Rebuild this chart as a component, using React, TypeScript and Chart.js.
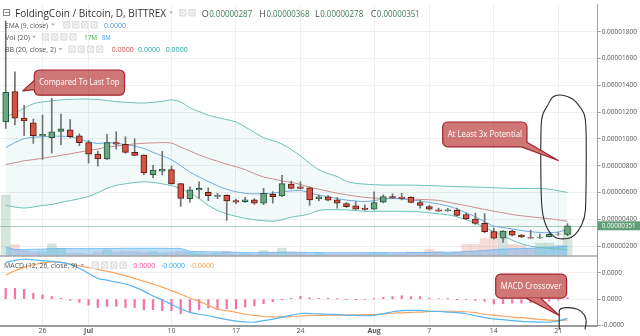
import React, { useEffect, useRef } from 'react';
import { Chart, registerables } from 'chart.js';

Chart.register(...registerables);

// ---------- data (prices in satoshi, 1e-8 BTC) ----------
const OPEN = [1126,1353,1155,1119,1023,1009,1055,1067,1023,972, 886,850,972,960,899,879,732,759,770,666, 554,618,600,571,578,540,532,545,520,586, 574,662,642,635,552,567,545,517,500,483, 476,527,569,566,564,525,495,471,464,468, 435,402,369,307,259,312,281,263,261,270, 288,287];
const HIGH = [1880,1500,1251,1148,1177,1302,1185,1143,1038,989, 906,1033,1053,1016,1001,881,803,906,796,668, 642,679,635,593,583,550,564,554,630,605, 728,684,679,642,581,576,561,525,532,508, 605,583,589,593,569,542,503,483,481,483, 446,446,442,336,316,319,288,319,290,292, 301,368];
const LOW = [1077,1104,1023,965,847,894,957,1009,950,818, 796,845,923,894,875,732,708,730,662,495, 527,556,539,554,391,517,525,510,508,520, 569,627,625,503,537,536,483,488,473,468, 473,521,554,545,521,483,468,459,459,422, 396,361,300,251,226,276,263,257,257,268, 280,278];
const CLOSE = [1348,1155,1133,1023,1033,1053,1075,1016,972,886, 850,972,960,899,877,745,767,774,664,556, 620,630,576,578,537,527,545,520,593,569, 666,630,630,545,567,542,520,493,476,473, 525,569,559,556,525,503,476,461,471,429, 402,369,307,259,312,281,268,259,263,288, 290,351];
// volume in millions
const VOLUME = [37.6,7.1,3.5,2.4,2.8,7.5,4.8,1.8,1.8,1.4, 2.4,3.8,2.4,2.8,3.0,2.4,2.8,1.8,2.4,3.0, 2.4,1.8,1.5,1.8,2.8,1.2,1.5,1.2,3.5,1.8, 5.0,2.4,1.8,1.2,1.8,1.2,1.2,1.2,1.5,1.5, 2.2,2.2,1.5,1.5,2.4,2.4,4.2,3.0,1.8,2.4, 7.3,7.3,10.9,15.2,15.2,7.3,6.7,4.8,8.0,8.0, 6.7,17.0];
const VOLUME_MA = [5.6,4.1,4.1,4.2,4.3,4.6,4.6,4.6,4.6,4.6, 4.6,4.7,4.7,4.8,4.8,4.8,4.8,4.8,4.7,4.7, 3.0,2.8,2.7,2.6,2.6,2.3,2.2,2.2,2.3,2.3, 2.4,2.4,2.3,2.2,2.2,2.1,2.1,2.1,2.1,2.1, 2.1,2.1,2.1,2.1,2.2,2.2,2.3,2.4,2.4,2.5, 2.8,3.1,3.5,3.9,4.3,4.5,4.7,4.9,5.2,5.5, 5.7,6.2];
const BB_UPPER = [1166,1192,1229,1262,1276,1284,1291,1295,1297,1297, 1293,1286,1278,1273,1269,1267,1273,1280,1291,1276, 1232,1204,1177,1159,1144,1126,1089,1049,1009,987, 961,921,873,818,770,741,719,682,668,662, 658,655,655,655,655,653,651,649,646,644, 642,640,638,635,633,630,630,630,630,624, 613,600];
const BB_BASIS = [809,822,836,845,855,866,877,888,901,913, 924,938,946,955,962,967,970,972,968,939, 910,880,855,833,811,792,770,741,715,701, 686,675,660,638,624,609,594,583,572,563, 558,556,555,553,550,548,545,541,528,514, 501,487,473,460,448,435,426,418,411,404, 395,385];
const BB_LOWER = [503,492,483,492,503,510,525,539,553,569, 598,631,653,664,675,679,675,664,651,627, 598,554,503,466,440,422,407,396,389,385, 396,415,426,440,466,471,471,470,465,459, 459,459,459,459,459,455,448,440,433,418, 396,371,338,308,276,243,217,199,189,182, 177,173];
const EMA9 = [935,972,1001,1012,1016,1020,1020,1016,998,979, 965,972,968,957,946,928,899,873,844,800, 752,715,682,649,624,605,594,589,591,594, 605,611,615,598,580,569,554,543,536,532, 539,550,554,552,545,536,525,514,499,477, 448,418,382,349,338,327,316,307,301,300, 305,325];
// MACD in 1e-8 units
const MACD_LINE = [27.7,29.4,30.3,29.9,29.2,28.6,27.9,26.4,23.4,19.6, 15.7,14.4,12.9,11.5,9.1,6.1,2.4,-0.6,-4.0,-7.3, -10.0,-11.5,-12.6,-14.1,-15.6,-16.7,-17.3,-17.5,-16.3,-15.2, -13.7,-12.2,-10.9,-10.9,-11.2,-11.5,-11.8,-12.2,-12.4,-12.6, -12.4,-11.1,-9.6,-8.7,-8.6,-8.5,-9.2,-9.4,-9.8,-10.3, -11.1,-12.6,-14.1,-15.0,-15.6,-16.3,-16.9,-17.2,-17.5,-17.5, -16.6,-14.5];
const MACD_SIGNAL = [18.3,21.5,24.1,26.0,27.5,28.2,27.9,26.7,25.2,24.0, 22.6,21.1,19.6,17.8,15.7,13.6,11.4,9.1,6.5,3.9, 0.9,-1.7,-4.7,-7.7,-8.8,-10.0,-11.5,-12.4,-13.2,-13.5, -13.5,-13.2,-12.8,-12.4,-12.4,-12.2,-12.2,-12.2,-12.0,-11.8, -11.7,-11.2,-10.7,-10.4,-10.1,-9.8,-9.4,-9.2,-9.2,-9.2, -9.6,-10.3,-11.5,-12.2,-13.0,-13.6,-14.1,-14.8,-15.4,-16.0, -16.2,-15.8];
const MACD_HIST = [8.2,8.2,7.5,4.5,3.2,2.0,0.7,-1.0,-2.5,-4.5, -6.2,-5.5,-5.5,-6.2,-6.2,-8.0,-8.0,-8.8,-8.8,-11.0, -10.0,-8.0,-6.7,-8.0,-7.5,-7.5,-6.0,-5.0,-3.5,-2.0, -0.2,0.7,2.2,1.0,0.7,0.7,0.2,-0.2,-0.2,-0.5, 0.1,1.3,2.0,2.5,2.0,2.0,0.7,0.5,0.2,-0.2, -0.5,-1.0,-1.5,-3.7,-3.4,-3.0,-3.0,-2.6,-2.2,-1.5, -0.7,1.1];

const X_TICK_INDEX = [4, 9, 18, 25, 32, 40, 46, 53, 60];
const X_TICK_LABELS = ['26', 'Jul', '10', '17', '24', 'Aug', '7', '14', '21'];
const MONTH_LABELS = ['Jul', 'Aug'];
const PRICE_TICKS = [200, 400, 600, 800, 1000, 1200, 1400, 1600, 1800];
const MACD_TICKS = [20, 0, -20];

const SYMBOL_TITLE = 'FoldingCoin / Bitcoin, D, BITTREX';
const EMA_TITLE = 'EMA (9, close)';
const EMA_VALUES = ['0.0000'];
const VOL_TITLE = 'Vol (20)';
const VOL_VALUES = ['17M', '8M'];
const BB_TITLE = 'BB (20, close, 2)';
const BB_VALUES = ['0.0000', '0.0000', '0.0000'];
const MACD_TITLE = 'MACD (12, 26, close, 9)';
const MACD_VALUES = ['0.0000', '-0.0000', '-0.0000'];

// annotations, anchored in data units (index, price / macd value)
const CALLOUTS = [
  { text: 'Compared To Last Top', axis: 'yPrice', x0: 3.1, x1: 12.9, yTop: 1514, yBot: 1326, tail: [[3.1, 1436], [1.85, 1358], [3.1, 1368]] },
  { text: 'At Least 3x Potential', axis: 'yPrice', x0: 47.45, x1: 56.6, yTop: 1126, yBot: 940, tail: [[56.6, 975], [60.0, 838], [56.0, 940]] },
  { text: 'MACD Crossover', axis: 'yMacd', x0: 53.2, x1: 60.9, yTop: 19.0, yBot: 0.75, tail: [[56.5, 0.75], [60.1, -12.4], [58.1, 0.75]] },
];
const LOOP_MAIN = [[60.2, 1333], [61.6, 1302], [62.5, 1229], [63.0, 1160], [63.05, 900], [63.0, 532], [62.9, 410], [62.2, 312], [61.5, 263], [60.5, 250], [59.5, 263], [58.7, 336], [58.2, 459], [58.1, 700], [58.1, 1045], [58.2, 1179], [58.9, 1253], [59.3, 1314]];
const LOOP_MACD = [[60.1, -23], [60.1, -12], [60.1, -6.7], [61.6, -6.2], [62.6, -9.2], [63.1, -15.4], [62.9, -23]];

const X_MIN = -0.62;
const X_MAX = 64.28;

const FONT = '"Open Sans", "Noto Sans", "DejaVu Sans", sans-serif';
const UP_FILL = '#6ba583';
const UP_BORDER = '#225437';
const DOWN_FILL = '#d75442';
const DOWN_BORDER = '#5b1a13';
const WICK = '#737375';

const fmtPrice = (v: number) => (v / 1e8).toFixed(8);
const fmtMacd = (v: number) => (v < 0 ? '-0.0000' : '0.0000');
const isUp = (i: number) => CLOSE[i] >= OPEN[i];
const pts = (arr: number[]) => arr.map((v, i) => ({ x: i, y: v }));

function roundRect(ctx: CanvasRenderingContext2D, x0: number, y0: number, x1: number, y1: number, r: number) {
  ctx.beginPath();
  ctx.moveTo(x0 + r, y0);
  ctx.arcTo(x1, y0, x1, y1, r);
  ctx.arcTo(x1, y1, x0, y1, r);
  ctx.arcTo(x0, y1, x0, y0, r);
  ctx.arcTo(x0, y0, x1, y0, r);
  ctx.closePath();
}

function smoothPath(ctx: CanvasRenderingContext2D, p: { x: number; y: number }[], closed: boolean) {
  const n = p.length;
  const mid = (a: any, b: any) => ({ x: (a.x + b.x) / 2, y: (a.y + b.y) / 2 });
  ctx.beginPath();
  if (closed) {
    const m0 = mid(p[n - 1], p[0]);
    ctx.moveTo(m0.x, m0.y);
    for (let i = 0; i < n; i++) {
      const m = mid(p[i], p[(i + 1) % n]);
      ctx.quadraticCurveTo(p[i].x, p[i].y, m.x, m.y);
    }
  } else {
    ctx.moveTo(p[0].x, p[0].y);
    for (let i = 1; i < n - 1; i++) {
      const m = mid(p[i], p[i + 1]);
      ctx.quadraticCurveTo(p[i].x, p[i].y, m.x, m.y);
    }
    ctx.lineTo(p[n - 1].x, p[n - 1].y);
  }
  ctx.stroke();
}

function drawIcons(ctx: CanvasRenderingContext2D, x: number, yMid: number, count: number) {
  for (let k = 0; k < count; k++) {
    const bx = x + k * 9.2;
    ctx.fillStyle = '#e2e2e2';
    roundRect(ctx, bx, yMid - 4, bx + 7.5, yMid + 3.5, 1);
    ctx.fill();
    ctx.strokeStyle = '#ffffff';
    ctx.lineWidth = 1;
    ctx.beginPath();
    ctx.arc(bx + 3.75, yMid - 0.25, 1.8, 0, Math.PI * 2);
    ctx.stroke();
  }
}

function drawCaret(ctx: CanvasRenderingContext2D, x: number, yMid: number) {
  ctx.fillStyle = '#b0b0b0';
  ctx.beginPath();
  ctx.moveTo(x, yMid - 1.5);
  ctx.lineTo(x + 4, yMid - 1.5);
  ctx.lineTo(x + 2, yMid + 0.8);
  ctx.closePath();
  ctx.fill();
}

function drawText(ctx: CanvasRenderingContext2D, text: string, x: number, y: number, size: number, color: string, maxW?: number, weight = 'normal') {
  ctx.font = `${weight} ${size}px ${FONT}`;
  ctx.fillStyle = color;
  ctx.textAlign = 'left';
  ctx.textBaseline = 'alphabetic';
  if (maxW) ctx.fillText(text, x, y, maxW);
  else ctx.fillText(text, x, y);
}

const overlayPlugin = {
  id: 'overlay',
  beforeDatasetsDraw(chart: any) {
    const { ctx, chartArea } = chart;
    const yp = chart.scales.yPrice;
    const y = Math.round(yp.getPixelForValue(CLOSE[CLOSE.length - 1])) + 0.5;
    ctx.save();
    ctx.strokeStyle = 'rgba(107,165,131,0.55)';
    ctx.lineWidth = 1;
    ctx.beginPath();
    ctx.moveTo(chartArea.left, y);
    ctx.lineTo(chartArea.right, y);
    ctx.stroke();
    ctx.restore();
  },
  afterDatasetsDraw(chart: any) {
    const { ctx } = chart;
    const xs = chart.scales.x;
    ctx.save();
    // hand-drawn loops
    ctx.strokeStyle = '#2b2b2b';
    ctx.lineWidth = 1.1;
    ctx.lineJoin = 'round';
    const yp = chart.scales.yPrice;
    const ym = chart.scales.yMacd;
    smoothPath(ctx, LOOP_MAIN.map(([i, v]) => ({ x: xs.getPixelForValue(i), y: yp.getPixelForValue(v) })), true);
    smoothPath(ctx, LOOP_MACD.map(([i, v]) => ({ x: xs.getPixelForValue(i), y: ym.getPixelForValue(v) })), false);
    // callouts
    for (const c of CALLOUTS) {
      const ys = chart.scales[c.axis];
      const x0 = xs.getPixelForValue(c.x0);
      const x1 = xs.getPixelForValue(c.x1);
      const y0 = ys.getPixelForValue(c.yTop);
      const y1 = ys.getPixelForValue(c.yBot);
      ctx.fillStyle = 'rgba(178,34,34,0.62)';
      ctx.strokeStyle = '#a3262c';
      ctx.lineWidth = 1.2;
      roundRect(ctx, x0, y0, x1, y1, 5);
      ctx.fill();
      ctx.stroke();
      const t = c.tail.map(([i, v]) => ({ x: xs.getPixelForValue(i), y: ys.getPixelForValue(v) }));
      ctx.fillStyle = 'rgb(207,118,118)';
      ctx.beginPath();
      ctx.moveTo(t[0].x, t[0].y);
      ctx.lineTo(t[1].x, t[1].y);
      ctx.lineTo(t[2].x, t[2].y);
      ctx.closePath();
      ctx.fill();
      ctx.beginPath();
      ctx.moveTo(t[0].x, t[0].y);
      ctx.lineTo(t[1].x, t[1].y);
      ctx.lineTo(t[2].x, t[2].y);
      ctx.stroke();
      ctx.font = `9px ${FONT}`;
      ctx.fillStyle = '#ffffff';
      ctx.textAlign = 'center';
      ctx.textBaseline = 'middle';
      ctx.fillText(c.text, (x0 + x1) / 2, (y0 + y1) / 2, x1 - x0 - 10);
    }
    ctx.restore();
  },
  afterDraw(chart: any) {
    const { ctx, chartArea } = chart;
    const yp = chart.scales.yPrice;
    ctx.save();
    // pane divider
    ctx.strokeStyle = '#a6a6a6';
    ctx.lineWidth = 1.5;
    ctx.beginPath();
    ctx.moveTo(chartArea.left, yp.bottom);
    ctx.lineTo(chartArea.right, yp.bottom);
    ctx.stroke();

    // last price label on axis
    const last = CLOSE.length - 1;
    const ly = yp.getPixelForValue(CLOSE[last]);
    ctx.fillStyle = '#5e9e78';
    ctx.fillRect(yp.left, ly - 4.5, 640 - yp.left, 9);
    ctx.font = `6.5px ${FONT}`;
    ctx.fillStyle = '#ffffff';
    ctx.textAlign = 'left';
    ctx.textBaseline = 'middle';
    ctx.fillText(fmtPrice(CLOSE[last]), yp.left + 4, ly + 0.5, 34);

    // header row 1
    ctx.strokeStyle = '#888';
    ctx.lineWidth = 1;
    ctx.strokeRect(3.5, 9.5, 6, 6);
    ctx.beginPath();
    ctx.moveTo(5, 12.5);
    ctx.lineTo(9, 12.5);
    ctx.stroke();
    drawText(ctx, SYMBOL_TITLE, 15, 16.7, 10, '#333333', 151);
    drawCaret(ctx, 169, 13);
    drawIcons(ctx, 179, 13, 2);
    const ohlc = [['O', OPEN[last], 201.7], ['H', HIGH[last], 259.3], ['L', LOW[last], 315], ['C', CLOSE[last], 370.7]];
    for (const [k, v, x] of ohlc as any) {
      drawText(ctx, k, x, 16.7, 9, '#4a4a4a');
      ctx.font = `9px ${FONT}`;
      const w = ctx.measureText(k).width;
      drawText(ctx, fmtPrice(v), x + w + 0.5, 16.7, 9, '#3b7a53', 43);
    }
    // row 2: EMA
    drawText(ctx, EMA_TITLE, 5, 27.5, 7.5, '#555', 43);
    drawCaret(ctx, 51, 25);
    drawIcons(ctx, 62.7, 25, 4);
    drawText(ctx, EMA_VALUES[0], 104, 27.5, 7.5, '#4a90d9', 22);
    // row 3: Vol
    drawText(ctx, VOL_TITLE, 5, 39.5, 7.5, '#555', 25);
    drawCaret(ctx, 32, 37.3);
    drawIcons(ctx, 41.7, 37.3, 4);
    drawText(ctx, VOL_VALUES[0], 84, 39.5, 7.5, '#3cab4a', 13);
    drawText(ctx, VOL_VALUES[1], 101.7, 39.5, 7.5, '#3aa0f0', 9);
    // row 4: BB
    drawText(ctx, BB_TITLE, 5, 51.8, 7.5, '#555', 51);
    drawCaret(ctx, 58.5, 49.5);
    drawIcons(ctx, 68.3, 49.5, 4);
    drawText(ctx, BB_VALUES[0], 111.7, 51.8, 7.5, '#c0504d', 22);
    drawText(ctx, BB_VALUES[1], 138, 51.8, 7.5, '#26a69a', 22);
    drawText(ctx, BB_VALUES[2], 165.7, 51.8, 7.5, '#26a69a', 22);
    // MACD row
    drawText(ctx, MACD_TITLE, 4, 268, 7.5, '#555', 73);
    drawCaret(ctx, 80.5, 265.5);
    drawIcons(ctx, 91.7, 265.5, 4);
    drawText(ctx, MACD_VALUES[0], 133.3, 268, 7.5, '#ff4aa0', 22);
    drawText(ctx, MACD_VALUES[1], 161, 268, 7.5, '#2fa4f5', 24);
    drawText(ctx, MACD_VALUES[2], 190, 268, 7.5, '#ff9a3d', 24);
    ctx.restore();
  },
};

function App() {
  const ref = useRef<HTMLCanvasElement>(null);
  useEffect(() => {
    const canvas = ref.current as HTMLCanvasElement;
    const chart = new Chart(canvas, {
      type: 'bar',
      data: {
        datasets: [
          {
            type: 'bar', label: 'Volume', yAxisID: 'yVol', data: pts(VOLUME),
            backgroundColor: VOLUME.map((_, i) => (isUp(i) ? 'rgba(107,165,131,0.28)' : 'rgba(215,84,66,0.2)')),
            barThickness: 9, grouped: false, order: 10,
          },
          {
            type: 'line', label: 'Volume MA', yAxisID: 'yVol', data: pts(VOLUME_MA),
            borderColor: 'rgba(66,165,245,0.6)', backgroundColor: 'rgba(66,165,245,0.38)', borderWidth: 1,
            pointRadius: 0, fill: 'origin', tension: 0.2, order: 9,
          },
          {
            type: 'line', label: 'BB upper', yAxisID: 'yPrice', data: pts(BB_UPPER),
            borderColor: '#6cc0b8', borderWidth: 1, pointRadius: 0, tension: 0.3,
            fill: '+2', backgroundColor: 'rgba(38,166,154,0.06)', order: 8,
          },
          {
            type: 'line', label: 'BB basis', yAxisID: 'yPrice', data: pts(BB_BASIS),
            borderColor: '#c98c8c', borderWidth: 1, pointRadius: 0, tension: 0.3, fill: false, order: 7,
          },
          {
            type: 'line', label: 'BB lower', yAxisID: 'yPrice', data: pts(BB_LOWER),
            borderColor: '#6cc0b8', borderWidth: 1, pointRadius: 0, tension: 0.3, fill: false, order: 6,
          },
          {
            type: 'line', label: 'EMA 9', yAxisID: 'yPrice', data: pts(EMA9),
            borderColor: '#72a9dc', borderWidth: 1, pointRadius: 0, tension: 0.3, fill: false, order: 5,
          },
          {
            type: 'bar', label: 'Wick', yAxisID: 'yPrice',
            data: HIGH.map((h, i) => ({ x: i, y: [LOW[i], h] })),
            backgroundColor: WICK, barThickness: 1, grouped: false, order: 2,
          },
          {
            type: 'bar', label: 'Body', yAxisID: 'yPrice',
            data: OPEN.map((o, i) => ({ x: i, y: [o, CLOSE[i]] })),
            backgroundColor: OPEN.map((_, i) => (isUp(i) ? UP_FILL : DOWN_FILL)),
            borderColor: OPEN.map((_, i) => (isUp(i) ? UP_BORDER : DOWN_BORDER)),
            borderWidth: 1, borderSkipped: false, barThickness: 6, grouped: false, order: 1,
          },
          {
            type: 'bar', label: 'Histogram', yAxisID: 'yMacd', data: pts(MACD_HIST),
            backgroundColor: 'rgba(245,90,150,0.85)', barThickness: 1.6, grouped: false, order: 4,
          },
          {
            type: 'line', label: 'MACD', yAxisID: 'yMacd', data: pts(MACD_LINE),
            borderColor: '#55b4f2', borderWidth: 1.2, pointRadius: 0, tension: 0.3, fill: false, order: 3,
          },
          {
            type: 'line', label: 'Signal', yAxisID: 'yMacd', data: pts(MACD_SIGNAL),
            borderColor: '#f9a562', borderWidth: 1.2, pointRadius: 0, tension: 0.3, fill: false, order: 3,
          },
        ] as any,
      },
      options: {
        responsive: false,
        animation: false,
        devicePixelRatio: 1,
        events: [],
        layout: { padding: 0 },
        plugins: { legend: { display: false }, tooltip: { enabled: false } },
        scales: {
          x: {
            type: 'linear', position: 'bottom', min: X_MIN, max: X_MAX, bounds: 'data', offset: false,
            afterBuildTicks: (s: any) => { s.ticks = X_TICK_INDEX.map((v) => ({ value: v })); },
            afterFit: (s: any) => { s.height = 10; },
            ticks: {
              autoSkip: false, maxRotation: 0, padding: 1, color: '#555',
              font: (c: any) => ({ size: 7, family: FONT, weight: MONTH_LABELS.includes(X_TICK_LABELS[c.index]) ? 'bold' : 'normal' }),
              callback: (_v: any, i: number) => X_TICK_LABELS[i],
            },
            grid: { color: '#efefef', offset: false, drawTicks: false },
            border: { color: '#9a9a9a', width: 2 },
          },
          yPrice: {
            type: 'linear', position: 'right', stack: 'pane', stackWeight: 255, min: 125, max: 2000, bounds: 'data', offset: false,
            afterBuildTicks: (s: any) => { s.ticks = PRICE_TICKS.map((v) => ({ value: v })); },
            afterFit: (s: any) => { s.width = 42.3; },
            ticks: { callback: (v: any) => fmtPrice(v), color: '#555', font: { size: 6.5, family: FONT }, padding: 1 },
            grid: { color: '#efefef', tickLength: 3, tickColor: '#999', drawTicks: true },
            border: { color: '#a0a0a0', width: 1 },
          },
          yMacd: {
            type: 'linear', position: 'right', stack: 'pane', stackWeight: 71, min: -20.4, max: 32.7, bounds: 'data', offset: false,
            afterBuildTicks: (s: any) => { s.ticks = MACD_TICKS.map((v) => ({ value: v })); },
            afterFit: (s: any) => { s.width = 42.3; },
            ticks: { callback: (v: any) => fmtMacd(v), color: '#555', font: { size: 6.5, family: FONT }, padding: 1 },
            grid: { color: '#efefef', tickLength: 3, tickColor: '#999', drawTicks: true },
            border: { color: '#a0a0a0', width: 1 },
          },
          yVol: {
            type: 'linear', position: 'right', display: false, min: -43, max: 154.5, bounds: 'data',
          },
        },
      } as any,
      plugins: [overlayPlugin as any],
    });
    return () => chart.destroy();
  }, []);
  return (
    <div style={{ position: 'absolute', left: 0, top: 0, width: 640, height: 336, background: '#ffffff' }}>
      <canvas ref={ref} width={640} height={336} style={{ display: 'block', width: 640, height: 336 }} />
    </div>
  );
}

export default App;
